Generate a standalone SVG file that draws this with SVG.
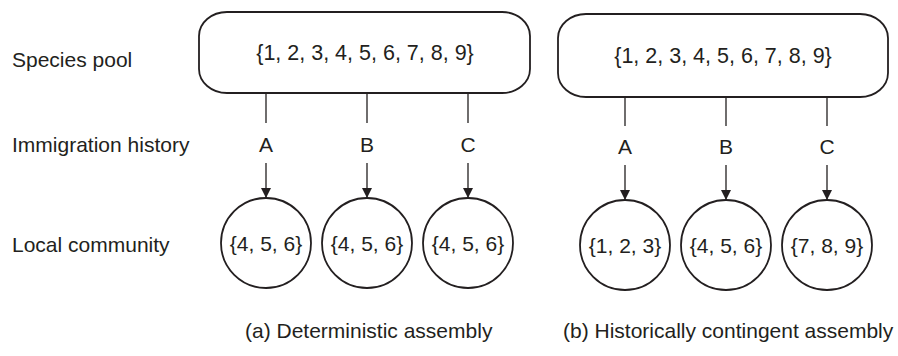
<svg xmlns="http://www.w3.org/2000/svg" width="898" height="356" viewBox="0 0 898 356">
<style>
text{font-family:"Liberation Sans",Arial,Helvetica,sans-serif;font-size:21px;fill:#231f20}
.mid{text-anchor:middle}
.shape{fill:#fff;stroke:#231f20;stroke-width:1.8}
.con{stroke:#231f20;stroke-width:1.3;fill:none}
</style>
<defs>
<marker id="ah" viewBox="0 0 10 10" refX="10" refY="5" markerWidth="10" markerHeight="10" markerUnits="userSpaceOnUse" orient="auto">
<path d="M0,0 L10,5 L0,10 Z" fill="#231f20"/>
</marker>
</defs>
<g id="row-labels">
<text x="12" y="67">Species pool</text>
<text x="12" y="152">Immigration history</text>
<text x="12" y="252">Local community</text>
</g>
<g id="connectors">
<line class="con" x1="266" y1="93" x2="266" y2="123"/>
<line class="con" x1="367" y1="93" x2="367" y2="123"/>
<line class="con" x1="468" y1="93" x2="468" y2="123"/>
<line class="con" x1="266" y1="163" x2="266" y2="198" marker-end="url(#ah)"/>
<line class="con" x1="367" y1="163" x2="367" y2="198" marker-end="url(#ah)"/>
<line class="con" x1="468" y1="163" x2="468" y2="198" marker-end="url(#ah)"/>
<line class="con" x1="625" y1="97" x2="625" y2="126"/>
<line class="con" x1="726" y1="97" x2="726" y2="126"/>
<line class="con" x1="827" y1="97" x2="827" y2="126"/>
<line class="con" x1="625" y1="165" x2="625" y2="200" marker-end="url(#ah)"/>
<line class="con" x1="726" y1="165" x2="726" y2="200" marker-end="url(#ah)"/>
<line class="con" x1="827" y1="165" x2="827" y2="200" marker-end="url(#ah)"/>
<text class="mid" x="266" y="152">A</text>
<text class="mid" x="367" y="152">B</text>
<text class="mid" x="468" y="152">C</text>
<text class="mid" x="625" y="154">A</text>
<text class="mid" x="726" y="154">B</text>
<text class="mid" x="827" y="154">C</text>
</g>
<g id="pool-a">
<rect class="shape" x="199" y="12" width="331" height="81" rx="28" ry="24"/>
<text class="mid" x="365" y="60" style="font-size:21.5px">{1, 2, 3, 4, 5, 6, 7, 8, 9}</text>
</g>
<g id="pool-b">
<rect class="shape" x="558" y="14" width="330" height="83" rx="28" ry="24"/>
<text class="mid" x="723" y="63" style="font-size:21.5px">{1, 2, 3, 4, 5, 6, 7, 8, 9}</text>
</g>
<g id="comm-a1"><circle class="shape" cx="266" cy="243" r="45"/><text class="mid" x="266" y="251">{4, 5, 6}</text></g>
<g id="comm-a2"><circle class="shape" cx="367" cy="243" r="45"/><text class="mid" x="367" y="251">{4, 5, 6}</text></g>
<g id="comm-a3"><circle class="shape" cx="468" cy="243" r="45"/><text class="mid" x="468" y="251">{4, 5, 6}</text></g>
<g id="comm-b1"><circle class="shape" cx="625" cy="245" r="45"/><text class="mid" x="625" y="253">{1, 2, 3}</text></g>
<g id="comm-b2"><circle class="shape" cx="726" cy="245" r="45"/><text class="mid" x="726" y="253">{4, 5, 6}</text></g>
<g id="comm-b3"><circle class="shape" cx="827" cy="245" r="45"/><text class="mid" x="827" y="253">{7, 8, 9}</text></g>
<g id="captions">
<text x="245" y="338">(a) Deterministic assembly</text>
<text x="563" y="338">(b) Historically contingent assembly</text>
</g>
</svg>
